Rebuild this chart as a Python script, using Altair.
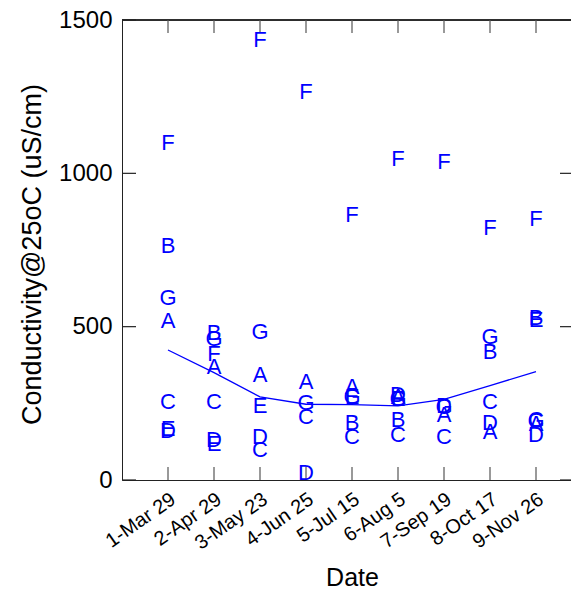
import altair as alt
import pandas as pd

dates = ["1-Mar 29", "2-Apr 29", "3-May 23", "4-Jun 25", "5-Jul 15",
         "6-Aug 5", "7-Sep 19", "8-Oct 17", "9-Nov 26"]
positions = [1, 2, 3, 4, 5, 6, 7, 8, 9]

site_A = [520, 367, 342, 321, 304, 272, 212, 158, 184]
site_B = [762, 478, None, None, 185, 196, None, 418, 527]
site_C = [255, 253, 98, 206, 141, 147, 141, 255, 196]
site_D = [160, 130, 139, 22, None, 277, 241, 185, 147]
site_E = [166, 117, 241, None, 270, 265, None, None, 522]
site_F = [1098, 411, 1435, 1266, 864, 1047, 1038, 821, 850]
site_G = [592, 459, 484, 250, 272, 263, 238, 465, 193]
smooth = [424, 350, 271, 247, 246, 242, 263, 308, 353]

y_ticks = [0, 500, 1000, 1500]

W, H = 449, 460
TL = 13
BLUE = "#0000ff"
FONT = "Liberation Sans"

sites = {"A": site_A, "B": site_B, "C": site_C, "D": site_D,
         "E": site_E, "F": site_F, "G": site_G}
rows = []
for name, vals in sites.items():
    for p, v in zip(positions, vals):
        if v is not None:
            rows.append({"pos": p, "site": name, "cond": v})
pts = pd.DataFrame(rows)
line_df = pd.DataFrame({"pos": positions, "cond": smooth})
xt = pd.DataFrame({"pos": positions})
yt = pd.DataFrame({"v": y_ticks})

label_expr = "[" + ",".join("'" + d + "'" for d in dates) + "][datum.value - 1]"

xscale = alt.Scale(domain=[0, W / 46], nice=False, zero=False)
yscale = alt.Scale(domain=[0, 1500], nice=False)

xaxis = alt.Axis(values=positions, labelExpr=label_expr, ticks=False, grid=False,
                 domain=True, domainColor="#222", labelAngle=-35, labelAlign="right",
                 labelBaseline="middle", labelPadding=17, labelOffset=5,
                 labelFontSize=20, labelFont=FONT, labelColor="black",
                 title="Date", titleFont=FONT, titleFontSize=25,
                 titleFontWeight="normal", titleColor="black",
                 titleX=230, titleAlign="center",
                 titleY=105, titleBaseline="alphabetic", labelFlush=False,
                 labelOverlap=False)
yaxis = alt.Axis(values=y_ticks, format="d", ticks=False, grid=False, domain=True,
                 domainColor="#222", labelPadding=10, labelFontSize=24,
                 labelFont=FONT, labelColor="black",
                 title="Conductivity@25oC (uS/cm)", titleFont=FONT,
                 titleFontSize=27, titleFontWeight="normal", titleColor="black",
                 titleX=-82, titleY=H / 2 + 4, titleBaseline="alphabetic",
                 titleAngle=-90, titleAlign="center", labelFlush=False)

base_pts = alt.Chart(pts).mark_text(font=FONT, fontSize=22, color=BLUE,
                                    align="center", baseline="middle").encode(
    x=alt.X("pos:Q", scale=xscale, axis=xaxis),
    y=alt.Y("cond:Q", scale=yscale, axis=yaxis),
    text="site:N",
)

line = alt.Chart(line_df).mark_line(color=BLUE, strokeWidth=1.3).encode(
    x=alt.X("pos:Q", scale=xscale),
    y=alt.Y("cond:Q", scale=yscale),
)

tick_color = "#555"
xt_bottom = alt.Chart(xt).mark_rule(color=tick_color, strokeWidth=1.2).encode(
    x=alt.X("pos:Q", scale=xscale), y=alt.value(H - TL), y2=alt.value(H))
xt_top = alt.Chart(xt).mark_rule(color=tick_color, strokeWidth=1.2).encode(
    x=alt.X("pos:Q", scale=xscale), y=alt.value(0), y2=alt.value(TL))
yt_left = alt.Chart(yt).mark_rule(color="#222", strokeWidth=1.2).encode(
    y=alt.Y("v:Q", scale=yscale), x=alt.value(0), x2=alt.value(TL + 1))
yt_right = alt.Chart(yt).mark_rule(color="#222", strokeWidth=1.2).encode(
    y=alt.Y("v:Q", scale=yscale), x=alt.value(W - TL + 2), x2=alt.value(W))
top_line = alt.Chart(yt).mark_rule(color="#222", strokeWidth=1.2).encode(
    y=alt.value(0), x=alt.value(0), x2=alt.value(W))

chart = alt.layer(
    top_line, xt_bottom, xt_top, yt_left, yt_right, line, base_pts
).properties(
    width=W, height=H,
    autosize=alt.AutoSizeParams(type="none"),
    padding={"left": 114, "top": 12, "right": 0, "bottom": 107},
).configure_view(stroke=None).configure(background="white")

chart.save("out.html", embed_options={"renderer": "svg", "actions": False})
